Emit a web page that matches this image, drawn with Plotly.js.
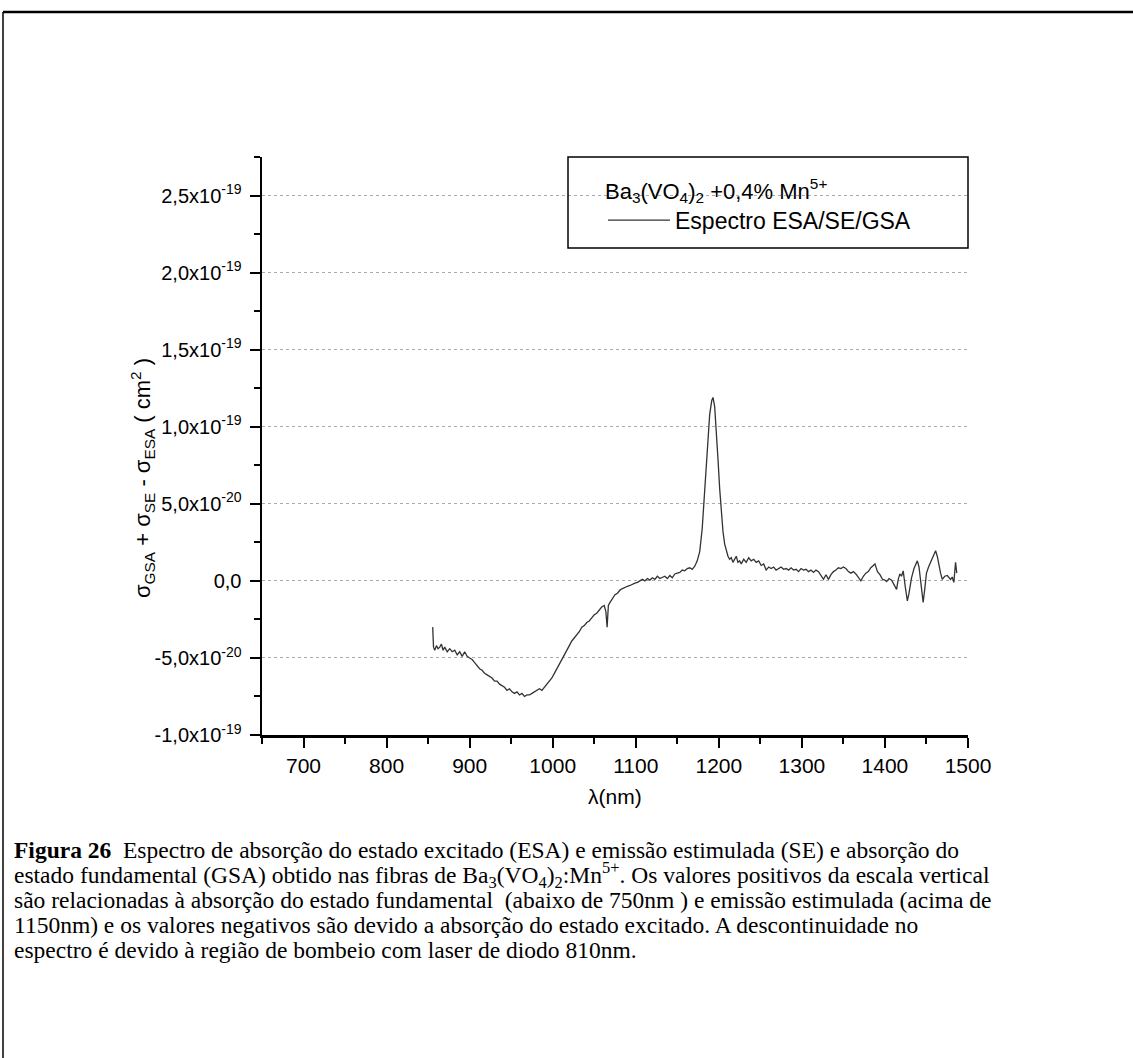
<!DOCTYPE html>
<html>
<head>
<meta charset="utf-8">
<script src="https://cdn.plot.ly/plotly-3.0.1.min.js"></script>
<style>
  html, body { margin: 0; padding: 0; background: #ffffff; }
  #chart { width: 1133px; height: 1058px; }
</style>
</head>
<body>
<div id="chart"></div>
<script>
// ---------------- DATA ----------------
// wavelength (nm)
const wavelength = [
  855.5, 856.5, 858, 860, 862, 864, 866, 868, 870, 873, 876, 879, 882, 885, 888, 891, 894, 897,
  900, 903, 906, 909, 912, 915, 918, 921, 924, 927, 930, 933, 936, 939, 942, 945, 948, 951, 954, 957,
  960, 963, 966, 969, 972, 975, 978, 981, 984, 987, 990, 993, 996, 999, 1002, 1005, 1008, 1011, 1014,
  1017, 1020, 1023, 1026, 1029, 1032, 1035, 1038, 1041, 1044, 1047, 1050, 1053, 1056, 1059, 1062,
  1064, 1065.5, 1067, 1069, 1072, 1075, 1078, 1081, 1084, 1087, 1090, 1093, 1096, 1099, 1102, 1105,
  1108, 1111, 1114, 1117, 1120, 1123, 1126, 1129, 1132, 1135, 1138, 1141, 1144, 1147, 1150, 1153,
  1156, 1159, 1162, 1165, 1168, 1171, 1174, 1177, 1180, 1183, 1186, 1189, 1191.5, 1193, 1195, 1197,
  1199, 1201, 1203, 1205, 1207, 1209, 1211, 1213, 1215, 1217, 1219, 1221, 1223, 1225, 1227, 1230,
  1233, 1236, 1239, 1242, 1245, 1248, 1251, 1254, 1257, 1260, 1263, 1266, 1269, 1272, 1275, 1278,
  1281, 1284, 1287, 1290, 1293, 1296, 1299, 1302, 1305, 1308, 1311, 1314, 1317, 1320, 1323, 1326,
  1329, 1332, 1335, 1338, 1341, 1344, 1347, 1350, 1353, 1356, 1359, 1362, 1365, 1368, 1371, 1374,
  1377, 1380, 1383, 1386, 1388, 1391, 1394, 1397, 1400, 1402, 1405, 1408, 1411, 1414, 1416, 1418,
  1420, 1422, 1424.5, 1427, 1429, 1432, 1435, 1439, 1441, 1443, 1444.5, 1446, 1448, 1450, 1452.5,
  1455, 1458, 1461, 1463, 1465, 1467, 1469, 1472, 1475, 1477, 1479, 1481, 1483, 1485, 1486.5
];
// sigma_GSA + sigma_SE - sigma_ESA, in units of 1e-20 cm^2
const sigma_1e20 = [
  -3.0, -4.3, -4.5, -4.2, -4.4, -4.3, -4.1, -4.5, -4.3, -4.6, -4.4, -4.6, -4.5, -4.8, -4.6, -4.9, -4.6, -4.9,
  -5.0, -5.1, -5.3, -5.5, -5.7, -5.8, -6.0, -6.1, -6.2, -6.3, -6.5, -6.5, -6.7, -6.8, -6.9, -7.1, -7.0, -7.2, -7.3, -7.2,
  -7.4, -7.3, -7.5, -7.4, -7.4, -7.3, -7.2, -7.1, -7.0, -7.1, -6.9, -6.7, -6.5, -6.3, -6.0, -5.7, -5.4, -5.0, -4.7,
  -4.4, -4.2, -3.9, -3.7, -3.5, -3.3, -3.0, -2.9, -2.7, -2.6, -2.4, -2.2, -2.1, -1.9, -1.7, -1.6,
  -2.0, -3.0, -1.6, -1.4, -1.1, -0.9, -0.8, -0.6, -0.5, -0.4, -0.35, -0.3, -0.2, -0.15, -0.1, 0.0,
  0.1, 0.0, 0.15, 0.05, 0.2, 0.1, 0.3, 0.15, 0.2, 0.3, 0.15, 0.35, 0.2, 0.45, 0.5, 0.55,
  0.7, 0.65, 0.8, 0.85, 0.75, 0.95, 1.3, 1.9, 3.4, 5.8, 8.6, 10.8, 11.7, 11.9, 11.3, 9.8,
  7.9, 6.0, 4.4, 3.2, 2.4, 1.9, 1.6, 1.4, 1.5, 1.2, 1.4, 1.6, 1.2, 1.3, 1.1, 1.4,
  1.2, 1.5, 1.3, 1.4, 1.2, 1.3, 1.0, 1.1, 0.7, 0.9, 0.8, 0.9, 0.7, 0.8, 0.9, 0.75,
  0.8, 0.7, 0.85, 0.7, 0.75, 0.6, 0.8, 0.7, 0.75, 0.6, 0.7, 0.55, 0.7, 0.6, 0.3, 0.1,
  0.4, 0.1, 0.4, 0.6, 0.7, 0.85, 0.8, 0.9, 0.8, 0.6, 0.5, 0.6, 0.45, 0.2, 0.0, 0.3,
  0.5, 0.6, 0.85, 1.0, 1.1, 0.6, 0.4, 0.1, 0.05, -0.05, 0.15, 0.05, -0.3, -0.55, 0.1, 0.45,
  0.3, 0.65, -0.4, -1.3, -0.8, 0.2, 0.8, 1.3, 0.9, 0.1, -0.6, -1.4, -0.5, 0.5, 0.9,
  1.2, 1.5, 1.95, 1.6, 1.0, 0.5, 0.1, 0.3, 0.35, 0.2, 0.1, 0.25, -0.1, 1.2, 0.5
];

const xTickVals = [700, 800, 900, 1000, 1100, 1200, 1300, 1400, 1500];
const xTickText = ["700", "800", "900", "1000", "1100", "1200", "1300", "1400", "1500"];
const yTickVals = [2.5e-19, 2.0e-19, 1.5e-19, 1.0e-19, 5.0e-20, 0, -5.0e-20, -1.0e-19];
const yTickText = [
  "2,5x10<sup>-19</sup>", "2,0x10<sup>-19</sup>", "1,5x10<sup>-19</sup>", "1,0x10<sup>-19</sup>",
  "5,0x10<sup>-20</sup>", "0,0", "-5,0x10<sup>-20</sup>", "-1,0x10<sup>-19</sup>"
];
const seriesName = "Espectro ESA/SE/GSA";
const legendTitle = "Ba<sub>3</sub>(VO<sub>4</sub>)<sub>2</sub> +0,4% Mn<sup>5+</sup>";
const xTitle = "λ(nm)";
const yTitle = "σ<sub>GSA</sub> + σ<sub>SE</sub> - σ<sub>ESA</sub> ( cm<sup>2</sup> )";
const captionLines = [
  "<b>Figura 26</b>  Espectro de absorção do estado excitado (ESA) e emissão estimulada (SE) e absorção do",
  "estado fundamental (GSA) obtido nas fibras de Ba<sub>3</sub>(VO<sub>4</sub>)<sub>2</sub>:Mn<sup>5+</sup>. Os valores positivos da escala vertical",
  "são relacionadas à absorção do estado fundamental  (abaixo de 750nm ) e emissão estimulada (acima de",
  "1150nm) e os valores negativos são devido a absorção do estado excitado. A descontinuidade no",
  "espectro é devido à região de bombeio com laser de diodo 810nm."
];

// ---------------- LAYOUT GEOMETRY ----------------
const W = 1133, H = 1058;
const L = 262, R = 968, T = 157, B = 735;   // plot area in px
const pw = R - L, ph = B - T;
const px2x = p => (p - L) / pw;            // px -> paper x
const py2y = p => (B - p) / ph;            // px -> paper y

const sans = "Liberation Sans, Arial, Helvetica, sans-serif";
const serif = "Liberation Serif, Times New Roman, Times, serif";

const trace = {
  x: wavelength,
  y: sigma_1e20.map(v => v * 1e-20),
  type: "scatter",
  mode: "lines",
  name: seriesName,
  line: { color: "#333333", width: 1.3 },
  xaxis: "x", yaxis: "y",
  showlegend: true
};

const xRange = [650, 1500];
const yRange = [-1.0e-19, 2.75e-19];

const annotations = [
  { text: xTitle, xref: "paper", yref: "paper", x: 0.5, y: py2y(796), xanchor: "center", yanchor: "middle",
    showarrow: false, font: { family: sans, size: 21, color: "#000" } },
  { text: yTitle, xref: "paper", yref: "paper", x: px2x(142), y: py2y(478), xanchor: "center", yanchor: "middle",
    textangle: -90, showarrow: false, font: { family: sans, size: 22, color: "#000" } }
];
const captionY = [850, 875, 900, 925, 950];
captionLines.forEach((t, i) => {
  annotations.push({ text: t, xref: "paper", yref: "paper", x: px2x(12), y: py2y(captionY[i]),
    xanchor: "left", yanchor: "middle", showarrow: false, align: "left",
    font: { family: serif, size: 23.5, color: "#000" } });
});

const shapes = [
  // legend box
  { type: "rect", xref: "paper", yref: "paper", x0: px2x(568), x1: 1, y0: py2y(248), y1: 1,
    line: { color: "#000", width: 1.5 }, fillcolor: "rgba(0,0,0,0)" },
  // figure frame (top and left edges)
  { type: "line", xref: "paper", yref: "paper", x0: px2x(3), x1: px2x(1140), y0: py2y(12), y1: py2y(12),
    line: { color: "#000", width: 2.5 } },
  { type: "line", xref: "paper", yref: "paper", x0: px2x(3), x1: px2x(3), y0: py2y(12), y1: py2y(1065),
    line: { color: "#000", width: 1.5 } }
];

const layout = {
  width: W, height: H,
  margin: { l: L, r: W - R, t: T, b: H - B, pad: 0 },
  paper_bgcolor: "#ffffff", plot_bgcolor: "#ffffff",
  font: { family: sans, size: 20, color: "#000" },
  showlegend: true,
  legend: {
    x: px2x(603), y: py2y(170), xanchor: "left", yanchor: "top",
    bgcolor: "rgba(0,0,0,0)", borderwidth: 0, itemwidth: 62,
    font: { family: sans, size: 23, color: "#000" },
    title: { text: legendTitle, font: { family: sans, size: 22, color: "#000" } }
  },
  xaxis: {
    range: xRange, autorange: false,
    tickmode: "array", tickvals: xTickVals, ticktext: xTickText,
    ticks: "outside", ticklen: 10, tickwidth: 2, tickcolor: "#000",
    minor: { tickmode: "linear", tick0: 650, dtick: 50, ticks: "outside", ticklen: 6, tickwidth: 2, tickcolor: "#000", showgrid: false },
    showline: true, linecolor: "#000", linewidth: 2.5, mirror: false,
    showgrid: false, zeroline: false,
    tickfont: { family: sans, size: 21, color: "#000" }
  },
  xaxis2: {
    overlaying: "x", side: "top", anchor: "y", range: xRange, autorange: false,
    tickmode: "array", tickvals: xTickVals, showticklabels: false,
    ticks: "inside", ticklen: 10, tickwidth: 2, tickcolor: "#000",
    minor: { tickmode: "linear", tick0: 650, dtick: 50, ticks: "inside", ticklen: 6, tickwidth: 2, tickcolor: "#000", showgrid: false },
    showline: true, linecolor: "#000", linewidth: 2.5,
    showgrid: false, zeroline: false
  },
  yaxis: {
    range: yRange, autorange: false,
    tickmode: "array", tickvals: yTickVals, ticktext: yTickText,
    ticks: "outside", ticklen: 10, tickwidth: 2, tickcolor: "#000",
    minor: { tickmode: "linear", tick0: -1.0e-19, dtick: 2.5e-20, ticks: "outside", ticklen: 6, tickwidth: 2, tickcolor: "#000", showgrid: false },
    showline: true, linecolor: "#000", linewidth: 2.5,
    showgrid: true, gridcolor: "#aaaaaa", gridwidth: 1, griddash: "dot",
    zeroline: false, ticklabelstandoff: 4,
    tickfont: { family: sans, size: 20, color: "#000" }
  },
  yaxis2: {
    overlaying: "y", side: "right", anchor: "x", range: yRange, autorange: false,
    tickmode: "array", tickvals: yTickVals, showticklabels: false,
    ticks: "inside", ticklen: 10, tickwidth: 2, tickcolor: "#000",
    minor: { tickmode: "linear", tick0: -1.0e-19, dtick: 2.5e-20, ticks: "inside", ticklen: 6, tickwidth: 2, tickcolor: "#000", showgrid: false },
    showline: true, linecolor: "#000", linewidth: 2.5,
    showgrid: false, zeroline: false
  },
  annotations: annotations,
  shapes: shapes
};

Plotly.newPlot("chart", [trace], layout, { displayModeBar: false, staticPlot: true });
</script>
</body>
</html>
